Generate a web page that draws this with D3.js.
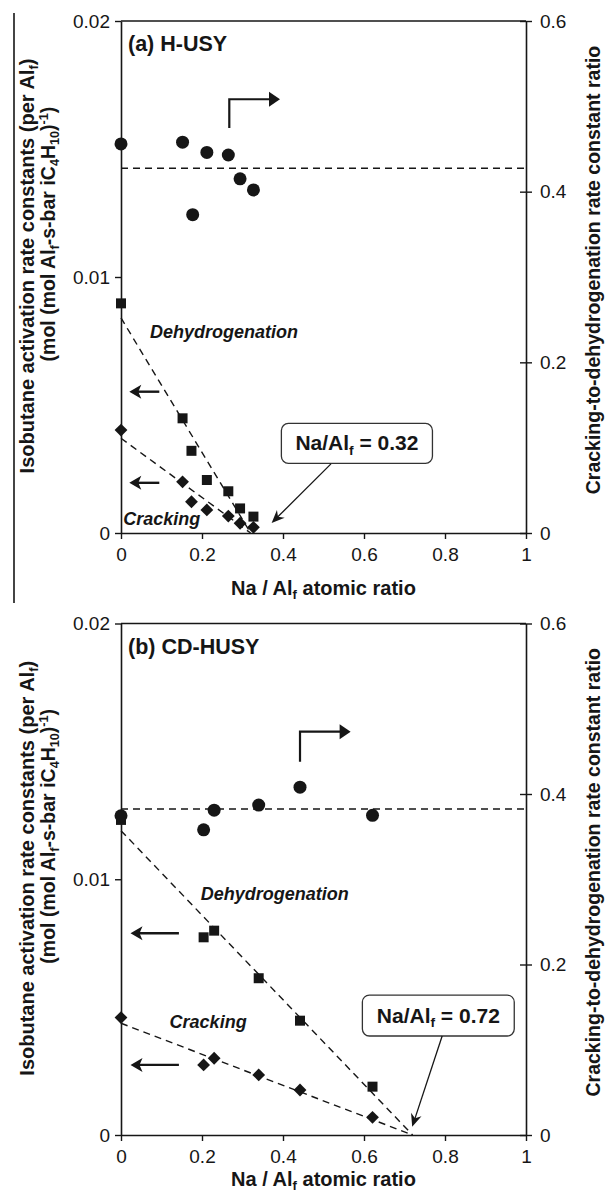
<!DOCTYPE html>
<html><head><meta charset="utf-8">
<script src="https://cdn.jsdelivr.net/npm/d3@7"></script>
<style>
body{margin:0;background:#fff}
svg{display:block}
text{font-family:"Liberation Sans",Arial,Helvetica,sans-serif;fill:#161616}
</style>
</head><body>
<svg id="chart" width="611" height="1192"></svg>
<script>
// ---------------- DATA ----------------
// Panel (a) H-USY
const naA        = [0, 0.152, 0.174, 0.212, 0.265, 0.294, 0.327];
const dehydroA   = [0.00897, 0.00448, 0.00321, 0.00207, 0.00163, 0.00096, 0.00064];
const crackA     = [0.00402, 0.00200, 0.00122, 0.00090, 0.00066, 0.00038, 0.00022];
const ratioNaA   = [0, 0.152, 0.177, 0.212, 0.265, 0.294, 0.327];
const ratioA     = [0.456, 0.458, 0.373, 0.446, 0.443, 0.415, 0.402];
const fitNaA     = [0, 0.32];
const dehydroFitA= [0.0084, 0];
const crackFitA  = [0.0037, 0];
const meanRatioA = 0.4274;
const interceptA = "0.32";

// Panel (b) CD-HUSY
const naB        = [0, 0.204, 0.230, 0.340, 0.442, 0.621];
const dehydroB   = [0.01232, 0.00773, 0.00799, 0.00613, 0.00447, 0.00189];
const crackB     = [0.00459, 0.00274, 0.00300, 0.00235, 0.00176, 0.00069];
const ratioNaB   = [0, 0.204, 0.230, 0.340, 0.442, 0.621];
const ratioB     = [0.3745, 0.358, 0.381, 0.387, 0.408, 0.375];
const fitNaB     = [0, 0.72];
const dehydroFitB= [0.0119, 0];
const crackFitB  = [0.00437, 0];
const meanRatioB = 0.3824;
const interceptB = "0.72";

// Ticks
const xTicks     = [0, 0.2, 0.4, 0.6, 0.8, 1];
const leftTicks  = [0, 0.01, 0.02];
const rightTicks = [0, 0.2, 0.4, 0.6];
const xTickLabels    = ["0", "0.2", "0.4", "0.6", "0.8", "1"];
const leftTickLabels = ["0", "0.01", "0.02"];
const rightTickLabels= ["0", "0.2", "0.4", "0.6"];

// ---------------- LAYOUT ----------------
const svg = d3.select("#chart");
const INK = "#161616";
const X0 = 121, X1 = 526;

// annotation anchors are given in data units (x: Na/Al, y: left-axis value or right-axis ratio)
const panels = [
  { title: "(a) H-USY", top: 21, bottom: 533,
    na: naA, dehydro: dehydroA, crack: crackA, rNa: ratioNaA, ratio: ratioA,
    fitNa: fitNaA, dFit: dehydroFitA, cFit: crackFitA, mean: meanRatioA, icpt: interceptA,
    elbow: {x: 0.2674, y0: 0.4746, y1: 0.5083, x1: 0.3926},
    leftArrows: [{x0: 0.0946, x1: 0.0205, y: 0.00552}, {x0: 0.0946, x1: 0.0205, y: 0.00196}],
    dLabel: {x: 0.0716, y: 0.0076}, cLabel: {x: 0.0057, y: 0.00031},
    box: {x0: 0.396, x1: 0.769, y0: 0.00428, y1: 0.00272},
    callArrow: {x0: 0.5185, y0: 0.0027, x1: 0.3719, y1: 0.00039},
    xTitleY: 595, frameLine: true },
  { title: "(b) CD-HUSY", top: 623.5, bottom: 1135,
    na: naB, dehydro: dehydroB, crack: crackB, rNa: ratioNaB, ratio: ratioB,
    fitNa: fitNaB, dFit: dehydroFitB, cFit: crackFitB, mean: meanRatioB, icpt: interceptB,
    elbow: {x: 0.442, y0: 0.4379, y1: 0.4731, x1: 0.567},
    leftArrows: [{x0: 0.143, x1: 0.0235, y: 0.00789}, {x0: 0.143, x1: 0.0235, y: 0.00274}],
    dLabel: {x: 0.197, y: 0.00919}, cLabel: {x: 0.12, y: 0.00418},
    box: {x0: 0.596, x1: 0.971, y0: 0.00547, y1: 0.00387},
    callArrow: {x0: 0.793, y0: 0.00387, x1: 0.719, y1: 0.00032},
    xTitleY: 1186, frameLine: false }
];

function rich(sel, parts, fs) {
  // parts: [text, kind] kind: n | sub | sup
  let shift = 0;
  parts.forEach(([t, k]) => {
    const target = k === "sub" ? fs * 0.22 : k === "sup" ? -fs * 0.38 : 0;
    const ts = sel.append("tspan").text(t).attr("dy", target - shift);
    if (k !== "n") ts.attr("font-size", fs * 0.65);
    shift = target;
  });
}

function arrowHead(tx, ty, ang, len, half, notch) {
  const c = Math.cos(ang), s = Math.sin(ang);
  const bx = tx - c * len, by = ty - s * len;
  const nx = tx - c * (len - notch), ny = ty - s * (len - notch);
  return `M${tx},${ty}L${bx - s * half},${by + c * half}L${nx},${ny}L${bx + s * half},${by - c * half}Z`;
}

panels.forEach(p => {
  const g = svg.append("g");
  const x = d3.scaleLinear().domain([0, 1]).range([X0, X1]);
  const yL = d3.scaleLinear().domain([0, 0.02]).range([p.bottom, p.top]);
  const yR = d3.scaleLinear().domain([0, 0.6]).range([p.bottom, p.top]);

  // frame: top line
  g.append("line").attr("x1", X0).attr("x2", X1).attr("y1", p.top).attr("y2", p.top)
    .attr("stroke", INK).attr("stroke-width", 1.6);

  // axes
  const ax = g.append("g").attr("transform", `translate(0,${p.bottom})`)
    .call(d3.axisBottom(x).tickValues(xTicks).tickSize(6).tickSizeOuter(0).tickPadding(9)
      .tickFormat((d, i) => xTickLabels[i]));
  const al = g.append("g").attr("transform", `translate(${X0},0)`)
    .call(d3.axisLeft(yL).tickValues(leftTicks).tickSize(6).tickSizeOuter(0).tickPadding(5)
      .tickFormat((d, i) => leftTickLabels[i]));
  const ar = g.append("g").attr("transform", `translate(${X1},0)`)
    .call(d3.axisRight(yR).tickValues(rightTicks).tickSize(6).tickSizeOuter(0).tickPadding(8)
      .tickFormat((d, i) => rightTickLabels[i]));
  ar.selectAll(".tick line").attr("x1", -6);
  [ax, al, ar].forEach(a => {
    a.select(".domain").attr("stroke", INK).attr("stroke-width", 1.6);
    a.selectAll(".tick line").attr("stroke", INK).attr("stroke-width", 1.4);
    a.selectAll(".tick text").attr("font-size", 19).attr("fill", INK)
      .attr("font-family", "'Liberation Sans', Arial, sans-serif");
  });

  // dashed lines
  const dash = "7,5";
  g.append("line").attr("x1", x(0)).attr("x2", x(1)).attr("y1", yR(p.mean)).attr("y2", yR(p.mean))
    .attr("stroke", INK).attr("stroke-width", 1.5).attr("stroke-dasharray", dash);
  const fitLine = d3.line().x(d => x(d[0])).y(d => yL(d[1]));
  [p.dFit, p.cFit].forEach(f => {
    g.append("path").attr("d", fitLine(p.fitNa.map((v, i) => [v, f[i]])))
      .attr("fill", "none").attr("stroke", INK).attr("stroke-width", 1.4).attr("stroke-dasharray", dash);
  });

  // markers
  g.selectAll(".sq").data(p.na.map((v, i) => [v, p.dehydro[i]])).join("path")
    .attr("d", d3.symbol(d3.symbolSquare, 100)())
    .attr("transform", d => `translate(${x(d[0])},${yL(d[1])})`).attr("fill", INK);
  g.selectAll(".dm").data(p.na.map((v, i) => [v, p.crack[i]])).join("path")
    .attr("d", d3.symbol(d3.symbolSquare, 82)())
    .attr("transform", d => `translate(${x(d[0])},${yL(d[1])}) rotate(45)`).attr("fill", INK);
  g.selectAll(".ci").data(p.rNa.map((v, i) => [v, p.ratio[i]])).join("circle")
    .attr("cx", d => x(d[0])).attr("cy", d => yR(d[1])).attr("r", 6.5).attr("fill", INK);

  // elbow arrow -> right axis
  const e = p.elbow;
  g.append("path").attr("d", `M${x(e.x)},${yR(e.y0)}V${yR(e.y1)}H${x(e.x1) - 8}`)
    .attr("fill", "none").attr("stroke", INK).attr("stroke-width", 2.2);
  g.append("path").attr("d", arrowHead(x(e.x1), yR(e.y1), 0, 11, 7.5, 0)).attr("fill", INK);

  // left arrows -> left axis
  p.leftArrows.forEach(a => {
    g.append("line").attr("x1", x(a.x0)).attr("x2", x(a.x1) + 6).attr("y1", yL(a.y)).attr("y2", yL(a.y))
      .attr("stroke", INK).attr("stroke-width", 2.4);
    g.append("path").attr("d", arrowHead(x(a.x1), yL(a.y), Math.PI, 12, 7, 3)).attr("fill", INK);
  });

  // series labels
  g.append("text").attr("x", x(p.dLabel.x)).attr("y", yL(p.dLabel.y))
    .attr("font-size", 18).attr("font-weight", "bold").attr("font-style", "italic").text("Dehydrogenation");
  g.append("text").attr("x", x(p.cLabel.x)).attr("y", yL(p.cLabel.y))
    .attr("font-size", 18).attr("font-weight", "bold").attr("font-style", "italic").text("Cracking");

  // callout
  const b = p.box;
  g.append("rect").attr("x", x(b.x0)).attr("y", yL(b.y0))
    .attr("width", x(b.x1) - x(b.x0)).attr("height", yL(b.y1) - yL(b.y0)).attr("rx", 7)
    .attr("fill", "#fff").attr("stroke", "#333").attr("stroke-width", 1.3);
  const ct = g.append("text").attr("x", (x(b.x0) + x(b.x1)) / 2)
    .attr("y", (yL(b.y0) + yL(b.y1)) / 2 + 7).attr("text-anchor", "middle")
    .attr("font-size", 21).attr("font-weight", "bold");
  rich(ct, [["Na/Al", "n"], ["f", "sub"], [" = " + p.icpt, "n"]], 21);
  const ca = p.callArrow;
  const ang = Math.atan2(yL(ca.y1) - yL(ca.y0), x(ca.x1) - x(ca.x0));
  g.append("line").attr("x1", x(ca.x0)).attr("y1", yL(ca.y0))
    .attr("x2", x(ca.x1) - Math.cos(ang) * 6).attr("y2", yL(ca.y1) - Math.sin(ang) * 6)
    .attr("stroke", INK).attr("stroke-width", 1.3);
  g.append("path").attr("d", arrowHead(x(ca.x1), yL(ca.y1), ang, 13, 5.5, 4)).attr("fill", INK);

  // panel title
  g.append("text").attr("x", 128).attr("y", p.top + 30).attr("font-size", 21.5)
    .attr("font-weight", "bold").text(p.title);

  // x-axis title
  const xt = g.append("text").attr("x", (X0 + X1) / 2).attr("y", p.xTitleY).attr("text-anchor", "middle")
    .attr("font-size", 20).attr("font-weight", "bold");
  rich(xt, [["Na / Al", "n"], ["f", "sub"], [" atomic ratio", "n"]], 20);

  // left axis title (two lines)
  const midL = (p.top + p.bottom) / 2;
  const l1 = g.append("text").attr("transform", `translate(34,${midL - 11}) rotate(-90)`)
    .attr("text-anchor", "middle").attr("font-size", 20).attr("font-weight", "bold");
  rich(l1, [["Isobutane activation rate constants (per Al", "n"], ["f", "sub"], [")", "n"]], 20);
  const l2 = g.append("text").attr("transform", `translate(55,${midL - 43}) rotate(-90)`)
    .attr("text-anchor", "middle").attr("font-size", 19.5).attr("font-weight", "bold");
  rich(l2, [["(mol (mol Al", "n"], ["f", "sub"], ["-s-bar iC", "n"], ["4", "sub"], ["H", "n"], ["10", "sub"],
            [")", "n"], ["-1", "sup"], [")", "n"]], 19.5);

  // right axis title
  g.append("text").attr("transform", `translate(600,${midL - 7}) rotate(-90)`)
    .attr("text-anchor", "middle").attr("font-size", 19.5).attr("font-weight", "bold")
    .text("Cracking-to-dehydrogenation rate constant ratio");

  if (p.frameLine) {
    g.append("line").attr("x1", 14).attr("x2", 14).attr("y1", 13).attr("y2", 603)
      .attr("stroke", INK).attr("stroke-width", 1.6);
  }
});
</script>
</body></html>
